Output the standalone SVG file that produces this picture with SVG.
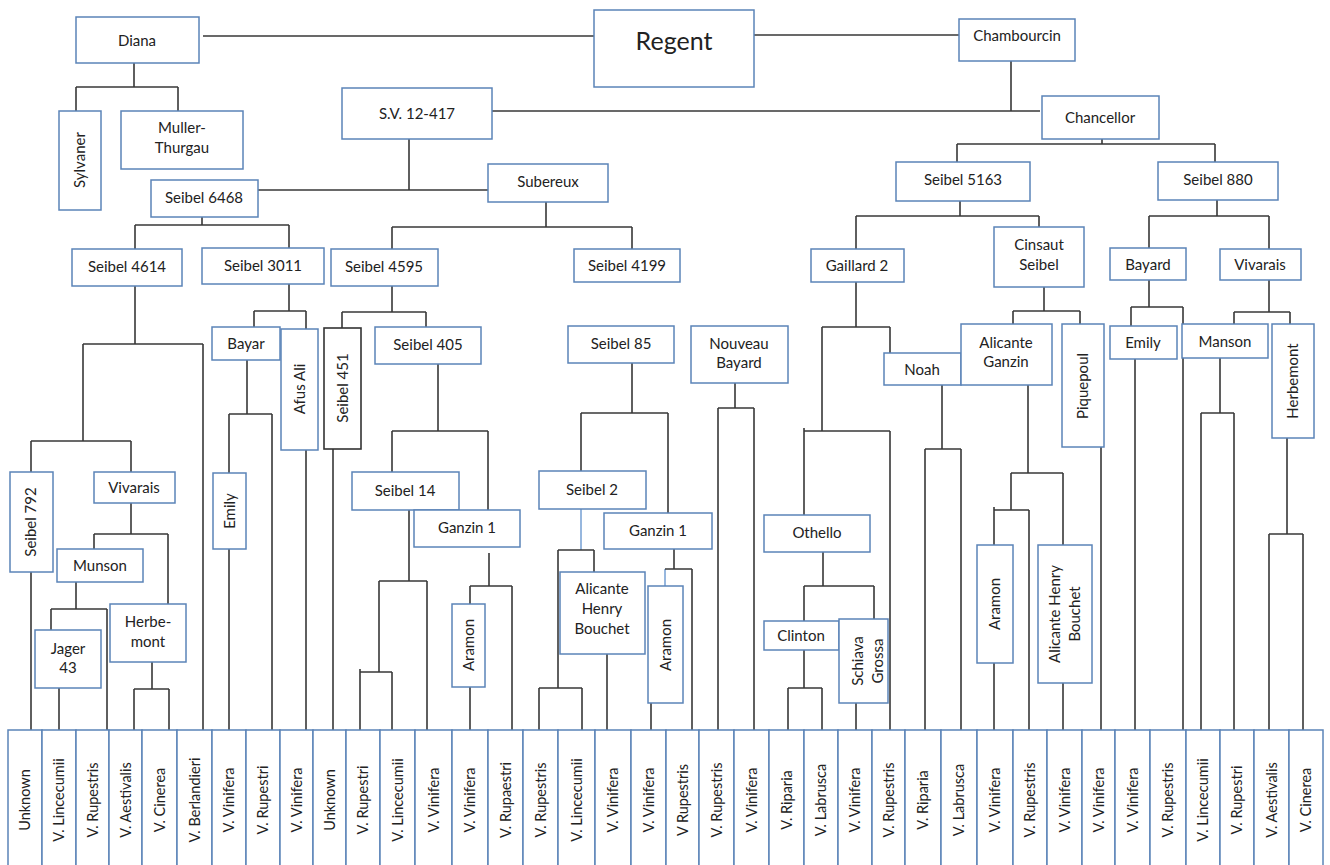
<svg xmlns="http://www.w3.org/2000/svg" width="1330" height="865" viewBox="0 0 1330 865">
<style>
.box{fill:#fff;stroke:#5b84b8;stroke-width:1.5}
.dark{fill:#fff;stroke:#333;stroke-width:1.6}
.t{font-family:Lato,"Liberation Sans",sans-serif;font-size:15px;fill:#222;text-anchor:middle}
.lt{font-family:Lato,"Liberation Sans",sans-serif;font-size:14.5px;fill:#222;text-anchor:middle}
.big{font-size:25px}
.c{stroke:#383838;stroke-width:1.6;fill:none}
.cb{stroke:#7ea6d6;stroke-width:1.6;fill:none}
</style>
<rect width="1330" height="865" fill="#fff"/>
<g id="connectors">
<path class="c" d="M203 36H594M754 35H959"/>
<path class="c" d="M134 63V87M76 87H178M76 87V111M178 87V111"/>
<path class="c" d="M409 139V190M258 190H488M492 111H1040M1011 61V111"/>
<path class="c" d="M202 217V225M135 225H289M135 225V249M289 225V248"/>
<path class="c" d="M546 202V227M392 227H632M392 227V249M632 227V249"/>
<path class="c" d="M1102 139V144M957 144H1215M957 144V162M1215 144V162"/>
<path class="c" d="M960 201V216M856 216H1039M856 216V249M1039 216V227"/>
<path class="c" d="M1217 200V216M1149 216H1269M1149 216V248M1269 216V249"/>
<path class="c" d="M135 286V344M83 344H203M83 344V441M203 344V730"/>
<path class="c" d="M31 441H131M31 441V472M131 441V472M31 572V730"/>
<path class="c" d="M131 503V534M94 534H168M94 534V549M168 534V604"/>
<path class="c" d="M76 582V609M51 609H107M51 609V630M107 609V730M59 688V730"/>
<path class="c" d="M152 662V689M134 689H169M134 689V730M169 689V730"/>
<path class="c" d="M289 284V311M254 311H306M254 311V327M306 311V329"/>
<path class="c" d="M247 360V414M229 414H272M229 414V473M272 414V730M229 549V730M306 450V730"/>
<path class="c" d="M392 286V312M342 312H426M342 312V328M426 312V327M333 449V730"/>
<path class="c" d="M438 364V431M392 431H488M392 431V472M488 431V510"/>
<path class="c" d="M409 510V581M379 581H427M379 581V672M427 581V730M360 672H392M360 669V730M392 672V730"/>
<path class="c" d="M489 553V586M470 586H512M470 586V604M512 586V730M470 687V730"/>
<path class="c" d="M632 363V413M581 413H668M581 413V471M668 413V513"/>
<path class="cb" d="M581 509V550M665 569V586"/>
<path class="c" d="M558 550H594M558 550V688M594 550V572M539 688H582M539 688V730M582 688V730M607 654V730"/>
<path class="c" d="M674 549V569M665 569H692M692 569V730M651 703V730"/>
<path class="c" d="M735 383V408M718 408H754M718 408V730M754 408V734"/>
<path class="c" d="M856 282V327M822 327H890M822 327V431M890 327V353M804 431H890M804 428V515M890 431V730"/>
<path class="c" d="M823 552V586M804 586H874M804 586V621M874 586V619"/>
<path class="c" d="M804 650V688M788 688H822M788 688V730M822 688V730M856 703V730"/>
<path class="c" d="M942 385V449M925 449H961M925 449V730M961 449V730"/>
<path class="c" d="M1044 287V311M1013 311H1080M1013 311V324M1080 311V324M1101 447V730"/>
<path class="c" d="M1028 385V473M1011 473H1063M1011 473V510M1063 473V545M994 510H1029M994 507V545M1029 510V730M994 663V730M1063 683V730"/>
<path class="c" d="M1149 280V307M1131 307H1183M1131 307V326M1183 307V730M1135 359V730"/>
<path class="c" d="M1269 280V312M1234 312H1290M1234 312V324M1290 312V324"/>
<path class="c" d="M1220 358V413M1201 413H1234M1201 413V730M1234 413V730"/>
<path class="c" d="M1287 438V534M1269 534H1303M1269 534V730M1303 534V730"/>
</g>
<g id="regent"><rect class="box" x="594" y="10" width="160" height="77"/><text class="t big" x="674" y="50">Regent</text></g>
<g id="diana"><rect class="box" x="76" y="17" width="123" height="46"/><text class="t" x="137" y="46">Diana</text></g>
<g id="chambourcin"><rect class="box" x="959" y="19" width="116" height="42"/><text class="t" x="1017" y="41">Chambourcin</text></g>
<g id="sylvaner"><rect class="box" x="59" y="111" width="42" height="99"/><text class="t" transform="translate(80 160) rotate(-90)" y="5">Sylvaner</text></g>
<g id="muller"><rect class="box" x="121" y="111" width="122" height="58"/><text class="t" x="182" y="133">Muller-</text><text class="t" x="182" y="153">Thurgau</text></g>
<g id="sv12417"><rect class="box" x="342" y="88" width="150" height="51"/><text class="t" x="417" y="119">S.V. 12-417</text></g>
<g id="chancellor"><rect class="box" x="1042" y="96" width="117" height="43"/><text class="t" x="1100" y="123">Chancellor</text></g>
<g id="seibel6468"><rect class="box" x="151" y="180" width="107" height="37"/><text class="t" x="204" y="203">Seibel 6468</text></g>
<g id="subereux"><rect class="box" x="488" y="164" width="120" height="38"/><text class="t" x="548" y="187">Subereux</text></g>
<g id="seibel5163"><rect class="box" x="896" y="162" width="134" height="39"/><text class="t" x="963" y="185">Seibel 5163</text></g>
<g id="seibel880"><rect class="box" x="1158" y="162" width="120" height="38"/><text class="t" x="1218" y="185">Seibel 880</text></g>
<g id="seibel4614"><rect class="box" x="72" y="249" width="110" height="37"/><text class="t" x="127" y="272">Seibel 4614</text></g>
<g id="seibel3011"><rect class="box" x="202" y="248" width="122" height="36"/><text class="t" x="263" y="271">Seibel 3011</text></g>
<g id="seibel4595"><rect class="box" x="331" y="249" width="107" height="37"/><text class="t" x="384" y="272">Seibel 4595</text></g>
<g id="seibel4199"><rect class="box" x="574" y="249" width="106" height="33"/><text class="t" x="627" y="271">Seibel 4199</text></g>
<g id="gaillard2"><rect class="box" x="811" y="249" width="93" height="33"/><text class="t" x="857" y="271">Gaillard 2</text></g>
<g id="cinsaut"><rect class="box" x="994" y="227" width="90" height="60"/><text class="t" x="1039" y="250">Cinsaut</text><text class="t" x="1039" y="270">Seibel</text></g>
<g id="bayard"><rect class="box" x="1110" y="248" width="76" height="32"/><text class="t" x="1148" y="270">Bayard</text></g>
<g id="vivarais-r"><rect class="box" x="1220" y="249" width="81" height="31"/><text class="t" x="1260" y="270">Vivarais</text></g>
<g id="bayar"><rect class="box" x="212" y="327" width="68" height="33"/><text class="t" x="246" y="349">Bayar</text></g>
<g id="afusali"><rect class="box" x="281" y="329" width="37" height="121"/><text class="t" transform="translate(299.5 389) rotate(-90)" y="5">Afus Ali</text></g>
<g id="seibel451"><rect class="dark" x="324" y="328" width="37" height="121"/><text class="t" transform="translate(342.5 388) rotate(-90)" y="5">Seibel 451</text></g>
<g id="seibel405"><rect class="box" x="375" y="327" width="106" height="37"/><text class="t" x="428" y="350">Seibel 405</text></g>
<g id="seibel85"><rect class="box" x="568" y="326" width="106" height="37"/><text class="t" x="621" y="349">Seibel 85</text></g>
<g id="nouveaubayard"><rect class="box" x="691" y="326" width="97" height="57"/><text class="t" x="739" y="349">Nouveau</text><text class="t" x="739" y="368">Bayard</text></g>
<g id="noah"><rect class="box" x="884" y="353" width="77" height="32"/><text class="t" x="922" y="375">Noah</text></g>
<g id="alicanteganzin"><rect class="box" x="961" y="324" width="91" height="61"/><text class="t" x="1006" y="348">Alicante</text><text class="t" x="1006" y="367">Ganzin</text></g>
<g id="piquepoul"><rect class="box" x="1062" y="324" width="42" height="123"/><text class="t" transform="translate(1083 386) rotate(-90)" y="5">Piquepoul</text></g>
<g id="emily-r"><rect class="box" x="1110" y="326" width="67" height="33"/><text class="t" x="1143" y="348">Emily</text></g>
<g id="manson"><rect class="box" x="1182" y="324" width="86" height="34"/><text class="t" x="1225" y="347">Manson</text></g>
<g id="herbemont-r"><rect class="box" x="1272" y="324" width="42" height="114"/><text class="t" transform="translate(1293 381) rotate(-90)" y="5">Herbemont</text></g>
<g id="seibel792"><rect class="box" x="10" y="472" width="43" height="100"/><text class="t" transform="translate(31 522) rotate(-90)" y="5">Seibel 792</text></g>
<g id="vivarais-l"><rect class="box" x="94" y="472" width="81" height="31"/><text class="t" x="134" y="493">Vivarais</text></g>
<g id="emily-l"><rect class="box" x="213" y="473" width="33" height="76"/><text class="t" transform="translate(229.5 511) rotate(-90)" y="5">Emily</text></g>
<g id="seibel14"><rect class="box" x="352" y="472" width="107" height="38"/><text class="t" x="405" y="496">Seibel 14</text></g>
<g id="ganzin1-l"><rect class="box" x="414" y="510" width="106" height="37"/><text class="t" x="467" y="533">Ganzin 1</text></g>
<g id="seibel2"><rect class="box" x="539" y="471" width="107" height="38"/><text class="t" x="592" y="495">Seibel 2</text></g>
<g id="ganzin1-r"><rect class="box" x="604" y="513" width="108" height="36"/><text class="t" x="658" y="536">Ganzin 1</text></g>
<g id="othello"><rect class="box" x="764" y="515" width="106" height="37"/><text class="t" x="817" y="538">Othello</text></g>
<g id="munson"><rect class="box" x="57" y="549" width="86" height="33"/><text class="t" x="100" y="571">Munson</text></g>
<g id="aramon-r2"><rect class="box" x="977" y="545" width="36" height="118"/><text class="t" transform="translate(995 604) rotate(-90)" y="5">Aramon</text></g>
<g id="ahb-r"><rect class="box" x="1038" y="545" width="54" height="138"/><text class="t" transform="translate(1065 614) rotate(-90)"><tspan x="0" y="-5">Alicante Henry</tspan><tspan x="0" y="15">Bouchet</tspan></text></g>
<g id="ahb-l"><rect class="box" x="560" y="572" width="85" height="82"/><text class="t" x="602" y="594">Alicante</text><text class="t" x="602" y="614">Henry</text><text class="t" x="602" y="634">Bouchet</text></g>
<g id="aramon-r"><rect class="box" x="648" y="586" width="35" height="117"/><text class="t" transform="translate(665.5 645) rotate(-90)" y="5">Aramon</text></g>
<g id="herbemont-l"><rect class="box" x="110" y="604" width="76" height="58"/><text class="t" x="148" y="627">Herbe-</text><text class="t" x="148" y="647">mont</text></g>
<g id="aramon-l"><rect class="box" x="452" y="604" width="33" height="83"/><text class="t" transform="translate(468.5 645) rotate(-90)" y="5">Aramon</text></g>
<g id="clinton"><rect class="box" x="764" y="621" width="75" height="29"/><text class="t" x="801" y="641">Clinton</text></g>
<g id="schiava"><rect class="box" x="839" y="619" width="49" height="84"/><text class="t" transform="translate(863.5 661) rotate(-90)"><tspan x="0" y="-1">Schiava</tspan><tspan x="0" y="19">Grossa</tspan></text></g>
<g id="jager43"><rect class="box" x="35" y="630" width="66" height="58"/><text class="t" x="68" y="654">Jager</text><text class="t" x="68" y="673">43</text></g>
<g id="leaves">
<g id="leaf0"><rect class="box" x="8" y="730" width="34" height="145"/><text class="lt" transform="translate(25 800) rotate(-90)" y="5">Unknown</text></g>
<g id="leaf1"><rect class="box" x="42" y="730" width="34" height="145"/><text class="lt" transform="translate(59 800) rotate(-90)" y="5">V. Lincecumii</text></g>
<g id="leaf2"><rect class="box" x="76" y="730" width="33" height="145"/><text class="lt" transform="translate(92.5 800) rotate(-90)" y="5">V. Rupestris</text></g>
<g id="leaf3"><rect class="box" x="109" y="730" width="33" height="145"/><text class="lt" transform="translate(125.5 800) rotate(-90)" y="5">V. Aestivalis</text></g>
<g id="leaf4"><rect class="box" x="142" y="730" width="35" height="145"/><text class="lt" transform="translate(159.5 800) rotate(-90)" y="5">V. Cinerea</text></g>
<g id="leaf5"><rect class="box" x="177" y="730" width="35" height="145"/><text class="lt" transform="translate(194.5 800) rotate(-90)" y="5">V. Berlandieri</text></g>
<g id="leaf6"><rect class="box" x="212" y="730" width="34" height="145"/><text class="lt" transform="translate(229 800) rotate(-90)" y="5">V. Vinifera</text></g>
<g id="leaf7"><rect class="box" x="246" y="730" width="34" height="145"/><text class="lt" transform="translate(263 800) rotate(-90)" y="5">V. Rupestri</text></g>
<g id="leaf8"><rect class="box" x="280" y="730" width="33" height="145"/><text class="lt" transform="translate(296.5 800) rotate(-90)" y="5">V. Vinifera</text></g>
<g id="leaf9"><rect class="box" x="313" y="730" width="33" height="145"/><text class="lt" transform="translate(329.5 800) rotate(-90)" y="5">Unknown</text></g>
<g id="leaf10"><rect class="box" x="346" y="730" width="34" height="145"/><text class="lt" transform="translate(363 800) rotate(-90)" y="5">V. Rupestri</text></g>
<g id="leaf11"><rect class="box" x="380" y="730" width="35" height="145"/><text class="lt" transform="translate(397.5 800) rotate(-90)" y="5">V. Lincecumii</text></g>
<g id="leaf12"><rect class="box" x="415" y="730" width="37" height="145"/><text class="lt" transform="translate(433.5 800) rotate(-90)" y="5">V. Vinifera</text></g>
<g id="leaf13"><rect class="box" x="452" y="730" width="36" height="145"/><text class="lt" transform="translate(470 800) rotate(-90)" y="5">V. Vinifera</text></g>
<g id="leaf14"><rect class="box" x="488" y="730" width="35" height="145"/><text class="lt" transform="translate(505.5 800) rotate(-90)" y="5">V. Rupaestri</text></g>
<g id="leaf15"><rect class="box" x="523" y="730" width="35" height="145"/><text class="lt" transform="translate(540.5 800) rotate(-90)" y="5">V. Rupestris</text></g>
<g id="leaf16"><rect class="box" x="558" y="730" width="37" height="145"/><text class="lt" transform="translate(576.5 800) rotate(-90)" y="5">V. Lincecumii</text></g>
<g id="leaf17"><rect class="box" x="595" y="730" width="36" height="145"/><text class="lt" transform="translate(613 800) rotate(-90)" y="5">V. Vinifera</text></g>
<g id="leaf18"><rect class="box" x="631" y="730" width="35" height="145"/><text class="lt" transform="translate(648.5 800) rotate(-90)" y="5">V. Vinifera</text></g>
<g id="leaf19"><rect class="box" x="666" y="730" width="33" height="145"/><text class="lt" transform="translate(682.5 800) rotate(-90)" y="5">V Rupestris</text></g>
<g id="leaf20"><rect class="box" x="699" y="730" width="35" height="145"/><text class="lt" transform="translate(716.5 800) rotate(-90)" y="5">V. Rupestris</text></g>
<g id="leaf21"><rect class="box" x="734" y="730" width="35" height="145"/><text class="lt" transform="translate(751.5 800) rotate(-90)" y="5">V. Vinifera</text></g>
<g id="leaf22"><rect class="box" x="769" y="730" width="35" height="145"/><text class="lt" transform="translate(786.5 800) rotate(-90)" y="5">V. Riparia</text></g>
<g id="leaf23"><rect class="box" x="804" y="730" width="34" height="145"/><text class="lt" transform="translate(821 800) rotate(-90)" y="5">V. Labrusca</text></g>
<g id="leaf24"><rect class="box" x="838" y="730" width="34" height="145"/><text class="lt" transform="translate(855 800) rotate(-90)" y="5">V. Vinifera</text></g>
<g id="leaf25"><rect class="box" x="872" y="730" width="33" height="145"/><text class="lt" transform="translate(888.5 800) rotate(-90)" y="5">V. Rupestris</text></g>
<g id="leaf26"><rect class="box" x="905" y="730" width="36" height="145"/><text class="lt" transform="translate(923 800) rotate(-90)" y="5">V. Riparia</text></g>
<g id="leaf27"><rect class="box" x="941" y="730" width="36" height="145"/><text class="lt" transform="translate(959 800) rotate(-90)" y="5">V. Labrusca</text></g>
<g id="leaf28"><rect class="box" x="977" y="730" width="36" height="145"/><text class="lt" transform="translate(995 800) rotate(-90)" y="5">V. Vinifera</text></g>
<g id="leaf29"><rect class="box" x="1013" y="730" width="34" height="145"/><text class="lt" transform="translate(1030 800) rotate(-90)" y="5">V. Rupestris</text></g>
<g id="leaf30"><rect class="box" x="1047" y="730" width="35" height="145"/><text class="lt" transform="translate(1064.5 800) rotate(-90)" y="5">V. Vinifera</text></g>
<g id="leaf31"><rect class="box" x="1082" y="730" width="33" height="145"/><text class="lt" transform="translate(1098.5 800) rotate(-90)" y="5">V. Vinifera</text></g>
<g id="leaf32"><rect class="box" x="1115" y="730" width="35" height="145"/><text class="lt" transform="translate(1132.5 800) rotate(-90)" y="5">V. Vinifera</text></g>
<g id="leaf33"><rect class="box" x="1150" y="730" width="36" height="145"/><text class="lt" transform="translate(1168 800) rotate(-90)" y="5">V. Rupestris</text></g>
<g id="leaf34"><rect class="box" x="1186" y="730" width="34" height="145"/><text class="lt" transform="translate(1203 800) rotate(-90)" y="5">V. Lincecumii</text></g>
<g id="leaf35"><rect class="box" x="1220" y="730" width="34" height="145"/><text class="lt" transform="translate(1237 800) rotate(-90)" y="5">V. Rupestri</text></g>
<g id="leaf36"><rect class="box" x="1254" y="730" width="35" height="145"/><text class="lt" transform="translate(1271.5 800) rotate(-90)" y="5">V. Aestivalis</text></g>
<g id="leaf37"><rect class="box" x="1289" y="730" width="34" height="145"/><text class="lt" transform="translate(1306 800) rotate(-90)" y="5">V. Cinerea</text></g>
</g>
</svg>
